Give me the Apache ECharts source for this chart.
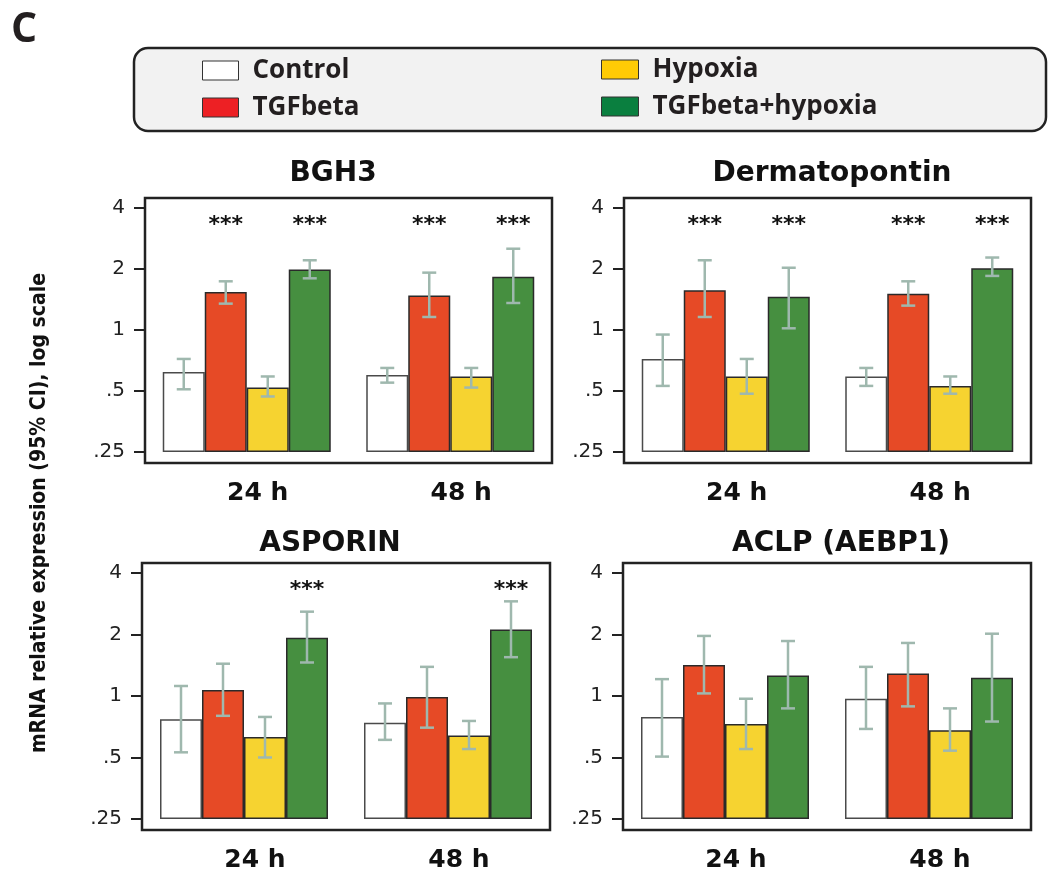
<!DOCTYPE html>
<html>
<head>
<meta charset="utf-8">
<title>mRNA relative expression</title>
<script src="https://cdn.jsdelivr.net/npm/echarts@6/dist/echarts.min.js"></script>
<style>
  html, body { margin: 0; padding: 0; background: #ffffff; }
  #chart { width: 1048px; height: 873px; }
</style>
</head>
<body>
<div id="chart"></div>
<script>
// ---- data -------------------------------------------------------------
const TIMES = ['24 h', '48 h'];
const CONDITIONS = ['Control', 'TGFbeta', 'Hypoxia', 'TGFbeta+hypoxia'];
const Y_TICKS = [0.25, 0.5, 1, 2, 4];
const Y_TICK_LABELS = ['.25', '.5', '1', '2', '4'];

// rows: condition (Control, TGFbeta, Hypoxia, TGFbeta+hypoxia); columns: 24 h, 48 h
const bgh3Mean = [[0.62, 0.60], [1.54, 1.48], [0.52, 0.59], [1.99, 1.83]];
const bgh3Low  = [[0.51, 0.55], [1.35, 1.16], [0.47, 0.52], [1.80, 1.36]];
const bgh3High = [[0.72, 0.65], [1.74, 1.92], [0.59, 0.65], [2.21, 2.52]];
const bgh3Stars = [1, 3];

const dptMean = [[0.72, 0.59], [1.57, 1.51], [0.59, 0.53], [1.46, 2.02]];
const dptLow  = [[0.53, 0.53], [1.16, 1.32], [0.485, 0.485], [1.02, 1.85]];
const dptHigh = [[0.95, 0.65], [2.21, 1.74], [0.72, 0.59], [2.03, 2.28]];
const dptStars = [1, 3];

const aspnMean = [[0.77, 0.74], [1.07, 0.99], [0.63, 0.64], [1.93, 2.12]];
const aspnLow  = [[0.53, 0.61], [0.80, 0.70], [0.50, 0.55], [1.46, 1.55]];
const aspnHigh = [[1.12, 0.92], [1.44, 1.39], [0.79, 0.755], [2.59, 2.91]];
const aspnStars = [3];

const aclpMean = [[0.79, 0.97], [1.42, 1.29], [0.73, 0.68], [1.26, 1.23]];
const aclpLow  = [[0.505, 0.69], [1.03, 0.89], [0.55, 0.54], [0.87, 0.75]];
const aclpHigh = [[1.21, 1.39], [1.97, 1.82], [0.97, 0.87], [1.86, 2.02]];
const aclpStars = [];

// ---- styling / layout ---------------------------------------------------
const BAR_COLORS = ['#ffffff', '#e64a26', '#f6d330', '#468f40'];
const BAR_BORDERS = ['#4a4a4a', '#2a2a2a', '#2a2a2a', '#2a2a2a'];
const KEY_COLORS = ['#ffffff', '#ed2024', '#ffcb05', '#0a7f3f'];
const ERR_COLOR = '#9fb8ae';
const BAR_W = 42;
const CAP_W = 14;
const Y_MIN = -0.18, Y_MAX = 4.165;
const STAR_LEVEL = 3.3; // expression level where the significance marks sit

// log2 scale, shifted so the .25 floor sits at zero (bars rise from .25)
const toAxis = v => Math.log2(v) + 2;
const fromAxis = a => Math.pow(2, a - 2);

const PANELS = [
  { title: 'BGH3', mean: bgh3Mean, low: bgh3Low, high: bgh3High, stars: bgh3Stars,
    grid: { left: 145, top: 198, width: 407, height: 265 }, titleX: 333, titleY: 174 },
  { title: 'Dermatopontin', mean: dptMean, low: dptLow, high: dptHigh, stars: dptStars,
    grid: { left: 624, top: 198, width: 407, height: 265 }, titleX: 832, titleY: 174 },
  { title: 'ASPORIN', mean: aspnMean, low: aspnLow, high: aspnHigh, stars: aspnStars,
    grid: { left: 142, top: 563, width: 408, height: 267 }, titleX: 330, titleY: 544 },
  { title: 'ACLP (AEBP1)', mean: aclpMean, low: aclpLow, high: aclpHigh, stars: aclpStars,
    grid: { left: 623, top: 563, width: 408, height: 267 }, titleX: 841, titleY: 544 }
];

function errorBarItem(params, api) {
  const t = api.value(0), c = api.value(1);
  const lo = api.coord([t, api.value(2)]);
  const hi = api.coord([t, api.value(3)]);
  const x = lo[0] + (c - 1.5) * BAR_W;
  const h = CAP_W / 2;
  const style = { stroke: ERR_COLOR, lineWidth: 2.5 };
  return {
    type: 'group',
    children: [
      { type: 'line', shape: { x1: x, y1: hi[1], x2: x, y2: lo[1] }, style },
      { type: 'line', shape: { x1: x - h, y1: hi[1], x2: x + h, y2: hi[1] }, style },
      { type: 'line', shape: { x1: x - h, y1: lo[1], x2: x + h, y2: lo[1] }, style }
    ]
  };
}

function starItem(params, api) {
  const t = api.value(0), c = api.value(1);
  const p = api.coord([t, api.value(2)]);
  return {
    type: 'text',
    x: p[0] + (c - 1.5) * BAR_W,
    y: p[1],
    style: {
      text: '***', fill: '#111111', align: 'center', verticalAlign: 'middle',
      fontFamily: 'DejaVu Sans', fontWeight: 'bold', fontSize: 22
    }
  };
}

const grids = [], xAxes = [], yAxes = [], series = [], graphics = [];

PANELS.forEach((p, i) => {
  grids.push(Object.assign({ show: true, borderColor: '#222222', borderWidth: 2.5,
                             backgroundColor: 'transparent' }, p.grid));
  xAxes.push({
    type: 'category', gridIndex: i, data: TIMES,
    axisLine: { show: false }, axisTick: { show: false },
    axisLabel: { margin: 18, padding: [0, 0, 0, 22], color: '#111111',
                 fontFamily: 'DejaVu Sans', fontWeight: 'bold', fontSize: 25 }
  });
  yAxes.push({
    type: 'value', gridIndex: i, min: Y_MIN, max: Y_MAX,
    splitLine: { show: false }, axisLine: { show: false },
    axisTick: { show: true, length: 11, customValues: Y_TICKS.map(toAxis),
                lineStyle: { color: '#222222', width: 2 } },
    axisLabel: {
      customValues: Y_TICKS.map(toAxis), margin: 20, color: '#222222',
      fontFamily: 'DejaVu Sans', fontSize: 20,
      formatter: v => {
        const k = Y_TICKS.findIndex(t => Math.abs(t - fromAxis(v)) < 1e-6);
        return k >= 0 ? Y_TICK_LABELS[k] : '';
      }
    }
  });

  CONDITIONS.forEach((name, c) => {
    series.push({
      type: 'bar', name, xAxisIndex: i, yAxisIndex: i,
      barWidth: BAR_W, barGap: '0%',
      itemStyle: { color: BAR_COLORS[c], borderColor: BAR_BORDERS[c], borderWidth: 1.5 },
      data: p.mean[c].map(toAxis),
      z: 2
    });
  });

  const errData = [];
  CONDITIONS.forEach((name, c) => {
    TIMES.forEach((tm, t) => {
      errData.push([t, c, toAxis(p.low[c][t]), toAxis(p.high[c][t])]);
    });
  });
  series.push({
    type: 'custom', xAxisIndex: i, yAxisIndex: i, renderItem: errorBarItem,
    encode: { x: 0, y: [2, 3] }, data: errData, z: 5, silent: true
  });

  const starData = [];
  p.stars.forEach(c => TIMES.forEach((tm, t) => starData.push([t, c, toAxis(STAR_LEVEL)])));
  series.push({
    type: 'custom', xAxisIndex: i, yAxisIndex: i, renderItem: starItem,
    encode: { x: 0, y: 2 }, data: starData, z: 6, silent: true
  });

  graphics.push({
    type: 'text', x: p.titleX, y: p.titleY,
    style: { text: p.title, align: 'center', verticalAlign: 'middle', fill: '#111111',
             fontFamily: 'DejaVu Sans', fontWeight: 'bold', fontSize: 28 }
  });
});

// panel letter, key box and shared axis title
graphics.push(
  { type: 'text', x: 11, y: 30,
    style: { text: 'C', verticalAlign: 'middle', fill: '#231f20',
             fontFamily: 'Open Sans', fontWeight: 'bold', fontSize: 41 } },
  { type: 'rect', z: -1, shape: { x: 134, y: 48, width: 912, height: 83, r: 14 },
    style: { fill: '#f2f2f2', stroke: '#222222', lineWidth: 2.5 } },
  { type: 'text', x: 40, y: 513, rotation: Math.PI / 2,
    style: { text: 'mRNA relative expression (95% CI), log scale', align: 'center',
             verticalAlign: 'middle', fill: '#111111',
             fontFamily: '"Liberation Sans Narrow", "DejaVu Sans Condensed", sans-serif',
             fontWeight: 'bold', fontSize: 21 } }
);

const keyText = { fontFamily: 'Open Sans', fontWeight: 'bold', fontSize: 26,
                  color: '#231f20', lineHeight: 19, padding: [8, 0, 0, 9] };
const keyItem = c => ({ name: CONDITIONS[c], icon: 'rect',
  itemStyle: { color: KEY_COLORS[c], borderColor: '#333333', borderWidth: 1 } });

const option = {
  animation: false,
  graphic: graphics,
  legend: [
    { data: [keyItem(0), keyItem(1)], orient: 'vertical', left: 197, top: 52,
      itemWidth: 36, itemHeight: 19, itemGap: 10, selectedMode: false, textStyle: keyText },
    { data: [keyItem(2), keyItem(3)], orient: 'vertical', left: 596, top: 51,
      itemWidth: 37, itemHeight: 19, itemGap: 10, selectedMode: false, textStyle: keyText }
  ],
  grid: grids,
  xAxis: xAxes,
  yAxis: yAxes,
  series
};

const chart = echarts.init(document.getElementById('chart'));
chart.setOption(option);
</script>
</body>
</html>
